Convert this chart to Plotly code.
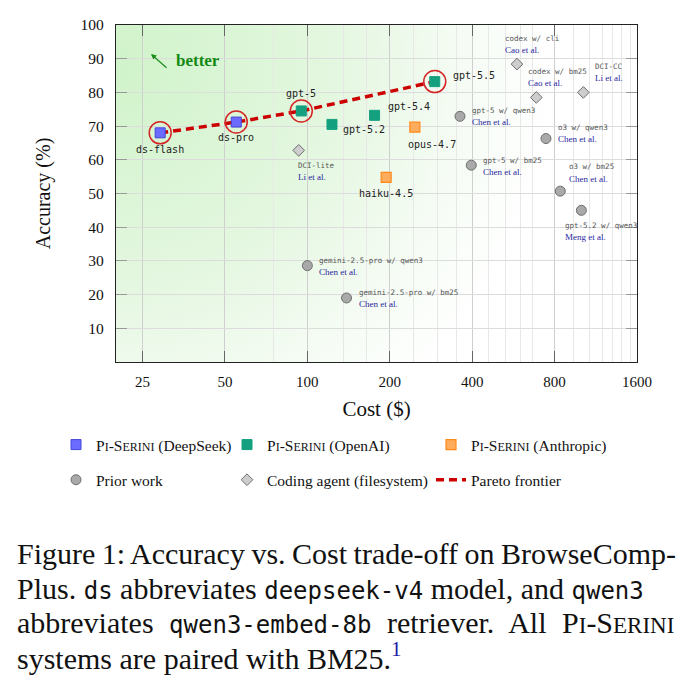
import base64
import math
import plotly.graph_objects as go

# ---------------- data ----------------
ds_names = ["ds-flash", "ds-pro"]
ds_cost = [29, 55]
ds_acc = [68.0, 71.2]

oa_names = ["gpt-5", "gpt-5.2", "gpt-5.4", "gpt-5.5"]
oa_cost = [95, 123, 176, 292]
oa_acc = [74.5, 70.5, 73.2, 83.2]

an_names = ["opus-4.7", "haiku-4.5"]
an_cost = [247, 194]
an_acc = [69.7, 54.8]

prior_names = ["gpt-5 w/ qwen3", "o3 w/ qwen3", "gpt-5 w/ bm25", "o3 w/ bm25",
               "gpt-5.2 w/ qwen3", "gemini-2.5-pro w/ qwen3", "gemini-2.5-pro w/ bm25"]
prior_cite = ["Chen et al.", "Chen et al.", "Chen et al.", "Chen et al.",
              "Meng et al.", "Chen et al.", "Chen et al."]
prior_cost = [361, 744, 397, 839, 1002, 100, 139]
prior_acc = [72.9, 66.3, 58.4, 50.7, 45.0, 28.6, 19.0]

coding_names = ["DCI-lite", "codex w/ cli", "codex w/ bm25", "DCI-CC"]
coding_cite = ["Li et al.", "Cao et al.", "Cao et al.", "Li et al."]
coding_cost = [93, 583, 686, 1019]
coding_acc = [62.8, 88.4, 78.5, 80.0]

pareto_names = ["ds-flash", "ds-pro", "gpt-5", "gpt-5.5"]

x_tick_vals = [25, 50, 100, 200, 400, 800, 1600]
x_minor_vals = [75, 135, 165, 245, 300, 350, 460, 530, 600, 665,
                940, 1070, 1200, 1300, 1400, 1520]
y_tick_vals = [10, 20, 30, 40, 50, 60, 70, 80, 90, 100]

# ---------------- styling / placement ----------------
SERIF = "Liberation Serif"
MONO = "DejaVu Sans Mono"
W_FIG, H_FIG = 691, 676
L, T, W, H = 116, 25, 521, 337


def px2x(px):
    return (px - L) / W


def py2y(py):
    return (T + H - py) / H


# label offsets in pixels (dx, dy [screen down], xanchor)
main_label_pos = {
    "ds-flash": (0, 16.5, "center"),
    "ds-pro": (0, 15, "center"),
    "gpt-5": (0, -17, "center"),
    "gpt-5.2": (9, 5, "left"),
    "gpt-5.4": (11, -8.6, "left"),
    "gpt-5.5": (16, -6.4, "left"),
    "opus-4.7": (-9, 17, "left"),
    "haiku-4.5": (0, 16, "center"),
}
ref_label_pos = {
    "gpt-5 w/ qwen3": (10, -6, 5.7),
    "o3 w/ qwen3": (10, -11.4, 0.3),
    "gpt-5 w/ bm25": (10, -5, 7),
    "o3 w/ bm25": (7, -24.3, -12),
    "gpt-5.2 w/ qwen3": (-18, 14.7, 26.7),
    "gemini-2.5-pro w/ qwen3": (10, -5.4, 6.3),
    "gemini-2.5-pro w/ bm25": (10, -5.7, 6.3),
    "DCI-lite": (-3, 14.7, 26.7),
    "codex w/ cli": (-14, -25.7, -13.7),
    "codex w/ bm25": (-10, -26.3, -14.3),
    "DCI-CC": (10, -26, -14),
}

BLUE_FILL, BLUE_LINE = "#6b6bff", "#4646d8"
TEAL = "#14a07f"
ORANGE_FILL, ORANGE_LINE = "#ffac5c", "#ff8a1c"
GRAY_FILL, GRAY_LINE = "#a9a9a9", "#6e6e6e"
DIAM_FILL = "#cdcdcd"
RED = "#cc0000"
CITE = "#1f1f9e"


def sc(txt, size):
    return f"<span style='font-size:{size}px'>{txt}</span>"


def pi_serini(size):
    return "P" + sc("I", size) + "-S" + sc("ERINI", size)


lookup = {}
for n, c, a in zip(ds_names + oa_names + an_names,
                   ds_cost + oa_cost + an_cost,
                   ds_acc + oa_acc + an_acc):
    lookup[n] = (c, a)
pareto_cost = [lookup[n][0] for n in pareto_names]
pareto_acc = [lookup[n][1] for n in pareto_names]

fig = go.Figure()

fig.add_trace(go.Scatter(
    x=pareto_cost, y=pareto_acc, mode="lines",
    line=dict(color=RED, width=3.5, dash="8px,5px"),
    name="Pareto frontier", legend="legend3", legendgroup="g6", legendrank=2,
    hoverinfo="skip"))
fig.add_trace(go.Scatter(
    x=pareto_cost, y=pareto_acc, mode="markers",
    marker=dict(symbol="circle-open", size=22, color="#d42424", line=dict(width=1.5)),
    showlegend=False, hoverinfo="skip"))

LEG_SC = 12
fig.add_trace(go.Scatter(
    x=ds_cost, y=ds_acc, mode="markers", name=pi_serini(LEG_SC) + " (DeepSeek)",
    marker=dict(symbol="square", size=10, color=BLUE_FILL, line=dict(color=BLUE_LINE, width=1)),
    legend="legend", legendgroup="g1", legendrank=1))
fig.add_trace(go.Scatter(
    x=oa_cost, y=oa_acc, mode="markers", name=pi_serini(LEG_SC) + " (OpenAI)",
    marker=dict(symbol="square", size=10, color=TEAL, line=dict(color=TEAL, width=1)),
    legend="legend2", legendgroup="g2", legendrank=1))
fig.add_trace(go.Scatter(
    x=an_cost, y=an_acc, mode="markers", name=pi_serini(LEG_SC) + " (Anthropic)",
    marker=dict(symbol="square", size=10, color=ORANGE_FILL, line=dict(color=ORANGE_LINE, width=1.2)),
    legend="legend3", legendgroup="g3", legendrank=1))
fig.add_trace(go.Scatter(
    x=prior_cost, y=prior_acc, mode="markers", name="Prior work",
    marker=dict(symbol="circle", size=10, color=GRAY_FILL, line=dict(color=GRAY_LINE, width=1)),
    legend="legend", legendgroup="g4", legendrank=2))
fig.add_trace(go.Scatter(
    x=coding_cost, y=coding_acc, mode="markers", name="Coding agent (filesystem)",
    marker=dict(symbol="diamond", size=9, color=DIAM_FILL, line=dict(color=GRAY_LINE, width=1)),
    legend="legend2", legendgroup="g5", legendrank=2))

annotations = []
for n, c, a in zip(ds_names + oa_names + an_names,
                   ds_cost + oa_cost + an_cost,
                   ds_acc + oa_acc + an_acc):
    dx, dy, xa = main_label_pos[n]
    annotations.append(dict(
        x=math.log10(c), y=a, xref="x", yref="y", text=n, showarrow=False,
        xanchor=xa, yanchor="middle", xshift=dx, yshift=-dy,
        font=dict(family=MONO, size=10, color="#222")))

for n, cite, c, a in zip(prior_names + coding_names, prior_cite + coding_cite,
                         prior_cost + coding_cost, prior_acc + coding_acc):
    dx, dy1, dy2 = ref_label_pos[n]
    annotations.append(dict(
        x=math.log10(c), y=a, xref="x", yref="y", text=n, showarrow=False,
        xanchor="left", yanchor="middle", xshift=dx, yshift=-dy1,
        font=dict(family=MONO, size=7.5, color="#555")))
    annotations.append(dict(
        x=math.log10(c), y=a, xref="x", yref="y", text=cite, showarrow=False,
        xanchor="left", yanchor="middle", xshift=dx, yshift=-dy2,
        font=dict(family=SERIF, size=9, color=CITE)))

# "better" annotation
annotations.append(dict(
    x=px2x(151), y=py2y(54), xref="paper", yref="paper", text="",
    showarrow=True, ax=17, ay=15, arrowhead=2, arrowsize=0.9, arrowwidth=1.2,
    arrowcolor="#1a8c1a"))
annotations.append(dict(
    x=px2x(198), y=py2y(60), xref="paper", yref="paper", text="<b>better</b>",
    showarrow=False, xanchor="center", yanchor="middle",
    font=dict(family=SERIF, size=17, color="#138a13")))

# caption
CAP = 30
MONO_CAP = 24


def mono(t):
    return f"<span style='font-family:{MONO};font-size:{MONO_CAP}px'>{t}</span>"


caption_lines = [
    ("Figure 1: Accuracy vs. Cost trade-off on BrowseComp-", -1, 553),
    ("Plus. " + mono("ds") + " abbreviates " + mono("deepseek-v4") + " model, and " + mono("qwen3"), 0, 588),
    ("abbreviates " + mono("qwen3-embed-8b") + " retriever. All " + pi_serini(23), 8, 622),
    ("systems are paired with BM25.<sup><span style='color:#1a1aa8'>1</span></sup>", 0, 656),
]
for txt, ws, ypx in caption_lines:
    if ws:
        txt = f"<span style='word-spacing:{ws}px'>{txt}</span>"
    annotations.append(dict(
        x=px2x(15), y=py2y(ypx), xref="paper", yref="paper", text=txt,
        showarrow=False, xanchor="left", yanchor="middle",
        font=dict(family=SERIF, size=CAP, color="#111")))

# background gradient
svg = (
    f'<svg xmlns="http://www.w3.org/2000/svg" width="{W}" height="{H}">'
    '<defs><radialGradient id="g" gradientUnits="userSpaceOnUse" cx="0" cy="40" r="440">'
    '<stop offset="0" stop-color="#d0f3ca"/>'
    '<stop offset="0.5" stop-color="#e4f7e0"/>'
    '<stop offset="0.8" stop-color="#f6fcf5"/>'
    '<stop offset="1" stop-color="#ffffff"/>'
    '</radialGradient></defs>'
    f'<rect width="{W}" height="{H}" fill="url(#g)"/></svg>'
)
src = "data:image/svg+xml;base64," + base64.b64encode(svg.encode()).decode()

leg_common = dict(orientation="v", xanchor="left", yanchor="top",
                  bgcolor="rgba(0,0,0,0)", borderwidth=0,
                  font=dict(family=SERIF, size=15.5, color="#111"),
                  tracegroupgap=12, itemclick=False, itemdoubleclick=False)

fig.update_layout(
    width=W_FIG, height=H_FIG,
    margin=dict(l=L, r=W_FIG - L - W, t=T, b=H_FIG - T - H, autoexpand=False),
    paper_bgcolor="white", plot_bgcolor="white",
    showlegend=True,
    legend=dict(x=px2x(56), y=py2y(428), **leg_common),
    legend2=dict(x=px2x(227), y=py2y(428), **leg_common),
    legend3=dict(x=px2x(431), y=py2y(428), **leg_common),
    images=[dict(source=src, xref="paper", yref="paper", x=0, y=1, sizex=1, sizey=1,
                 xanchor="left", yanchor="top", sizing="stretch", layer="below")],
    annotations=annotations,
    font=dict(family=SERIF, color="#111"),
)

fig.update_xaxes(
    type="log", range=[math.log10(20), math.log10(1600)],
    tickvals=x_tick_vals, ticktext=[str(v) for v in x_tick_vals],
    tickfont=dict(family=SERIF, size=15, color="#111"),
    ticks="inside", ticklen=11, tickwidth=1.2, tickcolor="#666",
    showline=True, linecolor="#222", linewidth=1.4, mirror="allticks",
    showgrid=True, gridcolor="#cfcfcf", gridwidth=1, zeroline=False,
    minor=dict(tickvals=x_minor_vals, showgrid=True, gridcolor="#e8e8e8", ticks=""),
    ticklabelstandoff=6,
    title=dict(text="Cost ($)", font=dict(family=SERIF, size=21, color="#111"), standoff=12),
)
fig.update_yaxes(
    range=[0, 100], tickvals=y_tick_vals,
    tickfont=dict(family=SERIF, size=15.5, color="#111"),
    ticks="inside", ticklen=11, tickwidth=1.2, tickcolor="#999",
    showline=True, linecolor="#222", linewidth=1.4, mirror="allticks",
    showgrid=True, gridcolor="#dcdcdc", gridwidth=1, zeroline=False,
    ticklabelstandoff=8,
    title=dict(text="Accuracy (%)", font=dict(family=SERIF, size=20, color="#111"), standoff=24),
)

fig.write_html("out.html")
